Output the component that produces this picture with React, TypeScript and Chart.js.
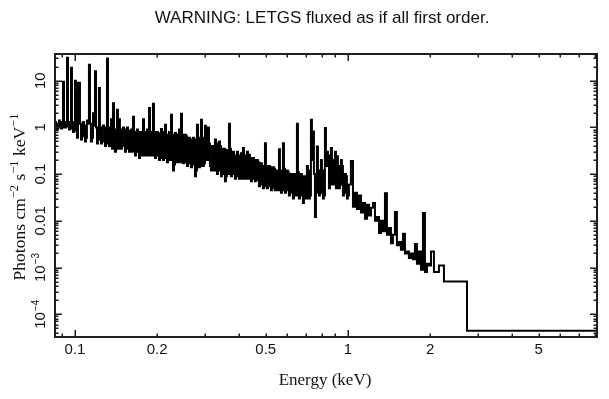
import React, { useEffect, useRef } from "react";
import { Chart, registerables } from "chart.js";

Chart.register(...registerables);

// Bin left edges (keV); last entry is the upper edge of the final bin
const binEdgesKeV = [
  0.0845, 0.0852, 0.0859, 0.0866, 0.0874, 0.0881, 0.0889, 0.0897, 0.0904, 0.0912,
  0.0919, 0.0927, 0.0935, 0.0943, 0.0951, 0.0959, 0.0967, 0.0975, 0.0983, 0.0991,
  0.1, 0.1008, 0.1017, 0.1026, 0.1034, 0.1043, 0.1052, 0.1061, 0.107, 0.1079,
  0.1088, 0.1097, 0.1106, 0.1115, 0.1125, 0.1135, 0.1144, 0.1154, 0.1164, 0.1174,
  0.1184, 0.1194, 0.1204, 0.1214, 0.1224, 0.1234, 0.1245, 0.1256, 0.1266, 0.1277,
  0.1288, 0.1299, 0.131, 0.1321, 0.1332, 0.1343, 0.1355, 0.1366, 0.1378, 0.139,
  0.1401, 0.1413, 0.1425, 0.1437, 0.1449, 0.1461, 0.1474, 0.1486, 0.1499, 0.1512,
  0.1525, 0.1538, 0.1551, 0.1564, 0.1577, 0.159, 0.1604, 0.1618, 0.1631, 0.1645,
  0.1659, 0.1673, 0.1687, 0.1701, 0.1716, 0.1731, 0.1745, 0.176, 0.1775, 0.179,
  0.1805, 0.182, 0.1836, 0.1852, 0.1867, 0.1883, 0.1899, 0.1915, 0.1931, 0.1947,
  0.1964, 0.1981, 0.1997, 0.2014, 0.2031, 0.2048, 0.2066, 0.2083, 0.2101, 0.2119,
  0.2137, 0.2155, 0.2173, 0.2191, 0.221, 0.2229, 0.2248, 0.2267, 0.2286, 0.2305,
  0.2325, 0.2345, 0.2364, 0.2384, 0.2404, 0.2424, 0.2445, 0.2466, 0.2487, 0.2508,
  0.2529, 0.255, 0.2572, 0.2594, 0.2616, 0.2638, 0.266, 0.2683, 0.2705, 0.2728,
  0.2751, 0.2774, 0.2798, 0.2822, 0.2846, 0.287, 0.2894, 0.2919, 0.2943, 0.2968,
  0.2993, 0.3018, 0.3044, 0.307, 0.3096, 0.3122, 0.3149, 0.3176, 0.3202, 0.3229,
  0.3257, 0.3285, 0.3312, 0.334, 0.3368, 0.3397, 0.3426, 0.3455, 0.3484, 0.3514,
  0.3543, 0.3573, 0.3604, 0.3635, 0.3665, 0.3696, 0.3727, 0.3759, 0.3791, 0.3823,
  0.3855, 0.3888, 0.3921, 0.3954, 0.3987, 0.4021, 0.4055, 0.4089, 0.4124, 0.4159,
  0.4194, 0.423, 0.4266, 0.4302, 0.4338, 0.4375, 0.4412, 0.4449, 0.4487, 0.4525,
  0.4563, 0.4602, 0.4641, 0.468, 0.472, 0.476, 0.48, 0.4841, 0.4882, 0.4923,
  0.4965, 0.5007, 0.5049, 0.5092, 0.5135, 0.5178, 0.5222, 0.5266, 0.5311, 0.5356,
  0.5401, 0.5447, 0.5493, 0.554, 0.5587, 0.5634, 0.5682, 0.573, 0.5779, 0.5828,
  0.5877, 0.5927, 0.5977, 0.6028, 0.6078, 0.6129, 0.6182, 0.6234, 0.6287, 0.634,
  0.6394, 0.6448, 0.6502, 0.6557, 0.6613, 0.6669, 0.6725, 0.6782, 0.684, 0.6898,
  0.6956, 0.7015, 0.7074, 0.7134, 0.7195, 0.7256, 0.7317, 0.7379, 0.7442, 0.7505,
  0.7568, 0.7632, 0.7697, 0.7762, 0.7828, 0.7894, 0.7961, 0.8028, 0.8097, 0.8166,
  0.8234, 0.8304, 0.8374, 0.8445, 0.8517, 0.8589, 0.8662, 0.8735, 0.8809, 0.8884,
  0.8959, 0.9035, 0.9111, 0.9188, 0.9266, 0.9344, 0.9424, 0.9504, 0.9584, 0.9665,
  0.9747, 0.983, 0.9913, 0.9997,
  1.008, 1.025, 1.043,
  1.061, 1.079, 1.097, 1.116, 1.135, 1.154, 1.174, 1.194, 1.214, 1.235,
  1.256, 1.277, 1.299, 1.321, 1.343, 1.366, 1.389, 1.413, 1.437, 1.461,
  1.486, 1.511, 1.537, 1.563, 1.59, 1.617, 1.644, 1.672, 1.701, 1.73,
  1.759, 1.789, 1.82, 1.851, 1.882, 1.914, 1.947, 1.98, 2.014,
  2.065, 2.154, 2.247, 2.729, 8.17,
];

// Photons cm^-2 s^-1 keV^-1 in each bin
const fluxPh = [
  1.3, 1.2, 0.9, 1.0, 1.4, 1.3, 0.95, 1.0, 9.5, 1.3,
  1.0, 1.05, 31, 1.3, 0.9, 0.95, 19, 1.3, 0.8, 0.85,
  10, 6, 0.6, 9, 9, 1.2, 0.55, 0.65, 1.3, 1.1,
  0.5, 0.6, 1.4, 1.2, 22, 1.2, 0.5, 0.6, 2.0, 1.1,
  16, 1.0, 0.45, 0.55, 7, 1.0, 0.45, 0.5, 1.1, 1.0,
  0.4, 0.45, 30, 1.0, 0.4, 0.45, 1.5, 0.35, 3.3, 0.9,
  0.3, 0.35, 2.4, 0.35, 1.5, 0.9, 0.35, 0.4, 1.0, 0.9,
  0.3, 0.35, 1.0, 0.85, 0.3, 0.35, 0.9, 0.3, 1.7, 0.8,
  0.25, 0.3, 0.9, 0.8, 0.22, 0.25, 0.8, 0.25, 1.5, 0.8,
  0.25, 0.28, 0.9, 0.25, 2.6, 0.8, 0.25, 0.25, 3.2, 0.8,
  0.22, 0.25, 0.8, 0.75, 0.2, 0.22, 0.92, 0.8, 0.2, 0.22,
  1.14, 0.7, 0.18, 0.2, 0.8, 0.2, 1.87, 0.7, 0.12, 0.16,
  0.76, 0.7, 0.18, 0.2, 0.9, 0.18, 1.96, 0.7, 0.17, 0.18,
  0.7, 0.65, 0.15, 0.17, 0.6, 0.55, 0.14, 0.16, 0.6, 0.55,
  0.09, 0.12, 1.14, 0.6, 0.14, 0.15, 1.46, 0.6, 0.15, 0.17,
  1.09, 0.9, 0.2, 1.0, 0.45, 0.15, 0.12, 0.4, 0.4, 0.12,
  0.55, 0.45, 0.1, 0.12, 0.5, 0.4, 0.09, 0.1, 0.35, 0.35,
  0.07, 0.09, 0.33, 0.1, 1.2, 0.35, 0.09, 0.1, 0.3, 0.25,
  0.08, 0.09, 0.3, 0.25, 0.08, 0.09, 0.28, 0.08, 0.36, 0.25,
  0.08, 0.09, 0.3, 0.08, 0.26, 0.22, 0.07, 0.08, 0.22, 0.2,
  0.07, 0.075, 0.2, 0.18, 0.055, 0.06, 0.17, 0.15, 0.05, 0.055,
  0.46, 0.15, 0.05, 0.055, 0.15, 0.14, 0.045, 0.05, 0.14, 0.13,
  0.045, 0.05, 0.12, 0.045, 0.34, 0.12, 0.04, 0.045, 0.46, 0.13,
  0.04, 0.045, 0.12, 0.11, 0.035, 0.04, 0.1, 0.1, 0.03, 0.035,
  0.1, 0.035, 1.2, 0.11, 0.03, 0.035, 0.1, 0.09, 0.024, 0.03,
  0.09, 0.03, 0.15, 0.12, 0.03, 0.035, 1.46, 0.2, 0.82, 0.1,
  0.012, 0.04, 0.39, 0.12, 0.035, 0.04, 0.2, 0.12, 0.03, 0.035,
  0.97, 0.15, 0.3, 0.25, 0.05, 0.06, 0.36, 0.2, 0.06, 0.07,
  0.3, 0.05, 0.24, 0.15, 0.05, 0.06, 0.2, 0.15, 0.035, 0.04,
  0.1, 0.09, 0.03, 0.035,
  0.06, 0.19, 0.02,
  0.04, 0.018, 0.035, 0.015, 0.024, 0.011, 0.022, 0.013, 0.019, 0.024,
  0.01, 0.012, 0.0055, 0.01, 0.006, 0.039, 0.005, 0.007, 0.0033, 0.005,
  0.0154, 0.003, 0.0035, 0.0024, 0.0053, 0.002, 0.0022, 0.0016, 0.002, 0.0015,
  0.0032, 0.0012, 0.0022, 0.0009, 0.0147, 0.0008, 0.0012, 0.0011, 0.0022,
  0.0008, 0.0011, 0.0005, 0.000044,
];

const xMin = 0.0845;
const xMax = 8.17;
const yMin = 3.25e-5;
const yMax = 37.3;

const xLabelValues = [0.1, 0.2, 0.5, 1, 2, 5];
const xLabelTexts = ["0.1", "0.2", "0.5", "1", "2", "5"];
const yLabelValues = [10, 1, 0.1, 0.01, 1e-3, 1e-4];
const yLabelBase = ["10", "1", "0.1", "0.01", "10", "10"];
const yLabelSup = ["", "", "", "", "−3", "−4"];

const titleText = "WARNING: LETGS fluxed as if all first order.";
const xTitle = "Energy (keV)";
const yTitleParts: [string, boolean][] = [
  ["Photons cm", false],
  ["−2", true],
  [" s", false],
  ["−1", true],
  [" keV", false],
  ["−1", true],
];

const SANS = "'Liberation Sans', Arial, Helvetica, sans-serif";
const SERIF = "'Liberation Serif', 'Times New Roman', serif";

function logTicks(min: number, max: number) {
  const out: { v: number; major: boolean }[] = [];
  for (let e = -6; e <= 2; e++) {
    for (let k = 1; k <= 9; k++) {
      const v = k * Math.pow(10, e);
      if (v >= min * 1.0001 && v <= max / 1.0001) out.push({ v, major: k === 1 });
    }
  }
  return out;
}

const framePlugin = {
  id: "xspecFrame",
  afterDatasetsDraw(chart: any) {
    const { ctx, chartArea: a, scales } = chart;
    const xs = scales.x;
    const ys = scales.y;
    ctx.save();
    ctx.strokeStyle = "#1e1e1e";
    ctx.lineWidth = 2;
    ctx.strokeRect(a.left, a.top, a.right - a.left, a.bottom - a.top);

    ctx.lineWidth = 1.5;
    ctx.beginPath();
    for (const t of logTicks(xMin, xMax)) {
      const px = Math.round(xs.getPixelForValue(t.v)) + 0.25;
      const len = t.major ? 7 : 3.5;
      ctx.moveTo(px, a.bottom);
      ctx.lineTo(px, a.bottom - len);
      ctx.moveTo(px, a.top);
      ctx.lineTo(px, a.top + len);
    }
    for (const t of logTicks(yMin, yMax)) {
      const py = Math.round(ys.getPixelForValue(t.v)) + 0.25;
      const len = t.major ? 7 : 3.5;
      ctx.moveTo(a.left, py);
      ctx.lineTo(a.left + len, py);
      ctx.moveTo(a.right, py);
      ctx.lineTo(a.right - len, py);
    }
    ctx.stroke();

    // x tick labels
    ctx.fillStyle = "#111";
    ctx.font = `15px ${SANS}`;
    ctx.textAlign = "center";
    ctx.textBaseline = "middle";
    xLabelValues.forEach((v, i) => {
      ctx.fillText(xLabelTexts[i], xs.getPixelForValue(v), a.bottom + 13);
    });

    // y tick labels (rotated)
    yLabelValues.forEach((v, i) => {
      const py = ys.getPixelForValue(v);
      ctx.save();
      ctx.translate(a.left - 10, py);
      ctx.rotate(-Math.PI / 2);
      ctx.textAlign = "left";
      ctx.textBaseline = "alphabetic";
      ctx.font = `15px ${SANS}`;
      const wb = ctx.measureText(yLabelBase[i]).width;
      ctx.font = `10px ${SANS}`;
      const ws = yLabelSup[i] ? ctx.measureText(yLabelSup[i]).width + 1 : 0;
      const start = -(wb + ws) / 2;
      ctx.font = `15px ${SANS}`;
      ctx.fillText(yLabelBase[i], start, 0);
      if (yLabelSup[i]) {
        ctx.font = `10px ${SANS}`;
        ctx.fillText(yLabelSup[i], start + wb + 1, -6);
      }
      ctx.restore();
    });

    // x title
    ctx.font = `17px ${SERIF}`;
    ctx.textAlign = "center";
    ctx.textBaseline = "middle";
    ctx.fillText(xTitle, (a.left + a.right) / 2 - 1, 381);

    // y title (rotated, with superscripts)
    ctx.save();
    ctx.translate(25, 197);
    ctx.rotate(-Math.PI / 2);
    ctx.textAlign = "left";
    ctx.textBaseline = "alphabetic";
    let total = 0;
    for (const [s, sup] of yTitleParts) {
      ctx.font = sup ? `12.5px ${SERIF}` : `17.5px ${SERIF}`;
      total += ctx.measureText(s).width;
    }
    let cx = -total / 2;
    for (const [s, sup] of yTitleParts) {
      ctx.font = sup ? `12.5px ${SERIF}` : `17.5px ${SERIF}`;
      ctx.fillText(s, cx, sup ? -7 : 0);
      cx += ctx.measureText(s).width;
    }
    ctx.restore();

    // title
    ctx.font = `17px ${SANS}`;
    ctx.textAlign = "center";
    ctx.textBaseline = "middle";
    ctx.fillText(titleText, 322, 18);
    ctx.restore();
  },
};

export default function App() {
  const ref = useRef<HTMLCanvasElement | null>(null);
  useEffect(() => {
    if (!ref.current) return;
    const n = fluxPh.length;
    const points = binEdgesKeV.map((e, i) => ({ x: e, y: fluxPh[Math.min(i, n - 1)] }));
    const chart = new Chart(ref.current, {
      type: "line",
      data: {
        datasets: [
          {
            data: points,
            borderColor: "#000",
            borderWidth: 2,
            pointRadius: 0,
            stepped: "before",
            tension: 0,
            fill: false,
          },
        ],
      },
      options: {
        responsive: false,
        animation: false,
        devicePixelRatio: 1,
        events: [],
        layout: { padding: { left: 55, right: 12, top: 54, bottom: 62 } },
        plugins: { legend: { display: false }, tooltip: { enabled: false }, title: { display: false } },
        scales: {
          x: { type: "logarithmic", min: xMin, max: xMax, display: false },
          y: { type: "logarithmic", min: yMin, max: yMax, display: false },
        },
      },
      plugins: [framePlugin],
    });
    return () => chart.destroy();
  }, []);
  return (
    <div style={{ position: "fixed", left: 0, top: 0, width: 609, height: 399, background: "#fff" }}>
      <canvas ref={ref} width={609} height={399} />
    </div>
  );
}
